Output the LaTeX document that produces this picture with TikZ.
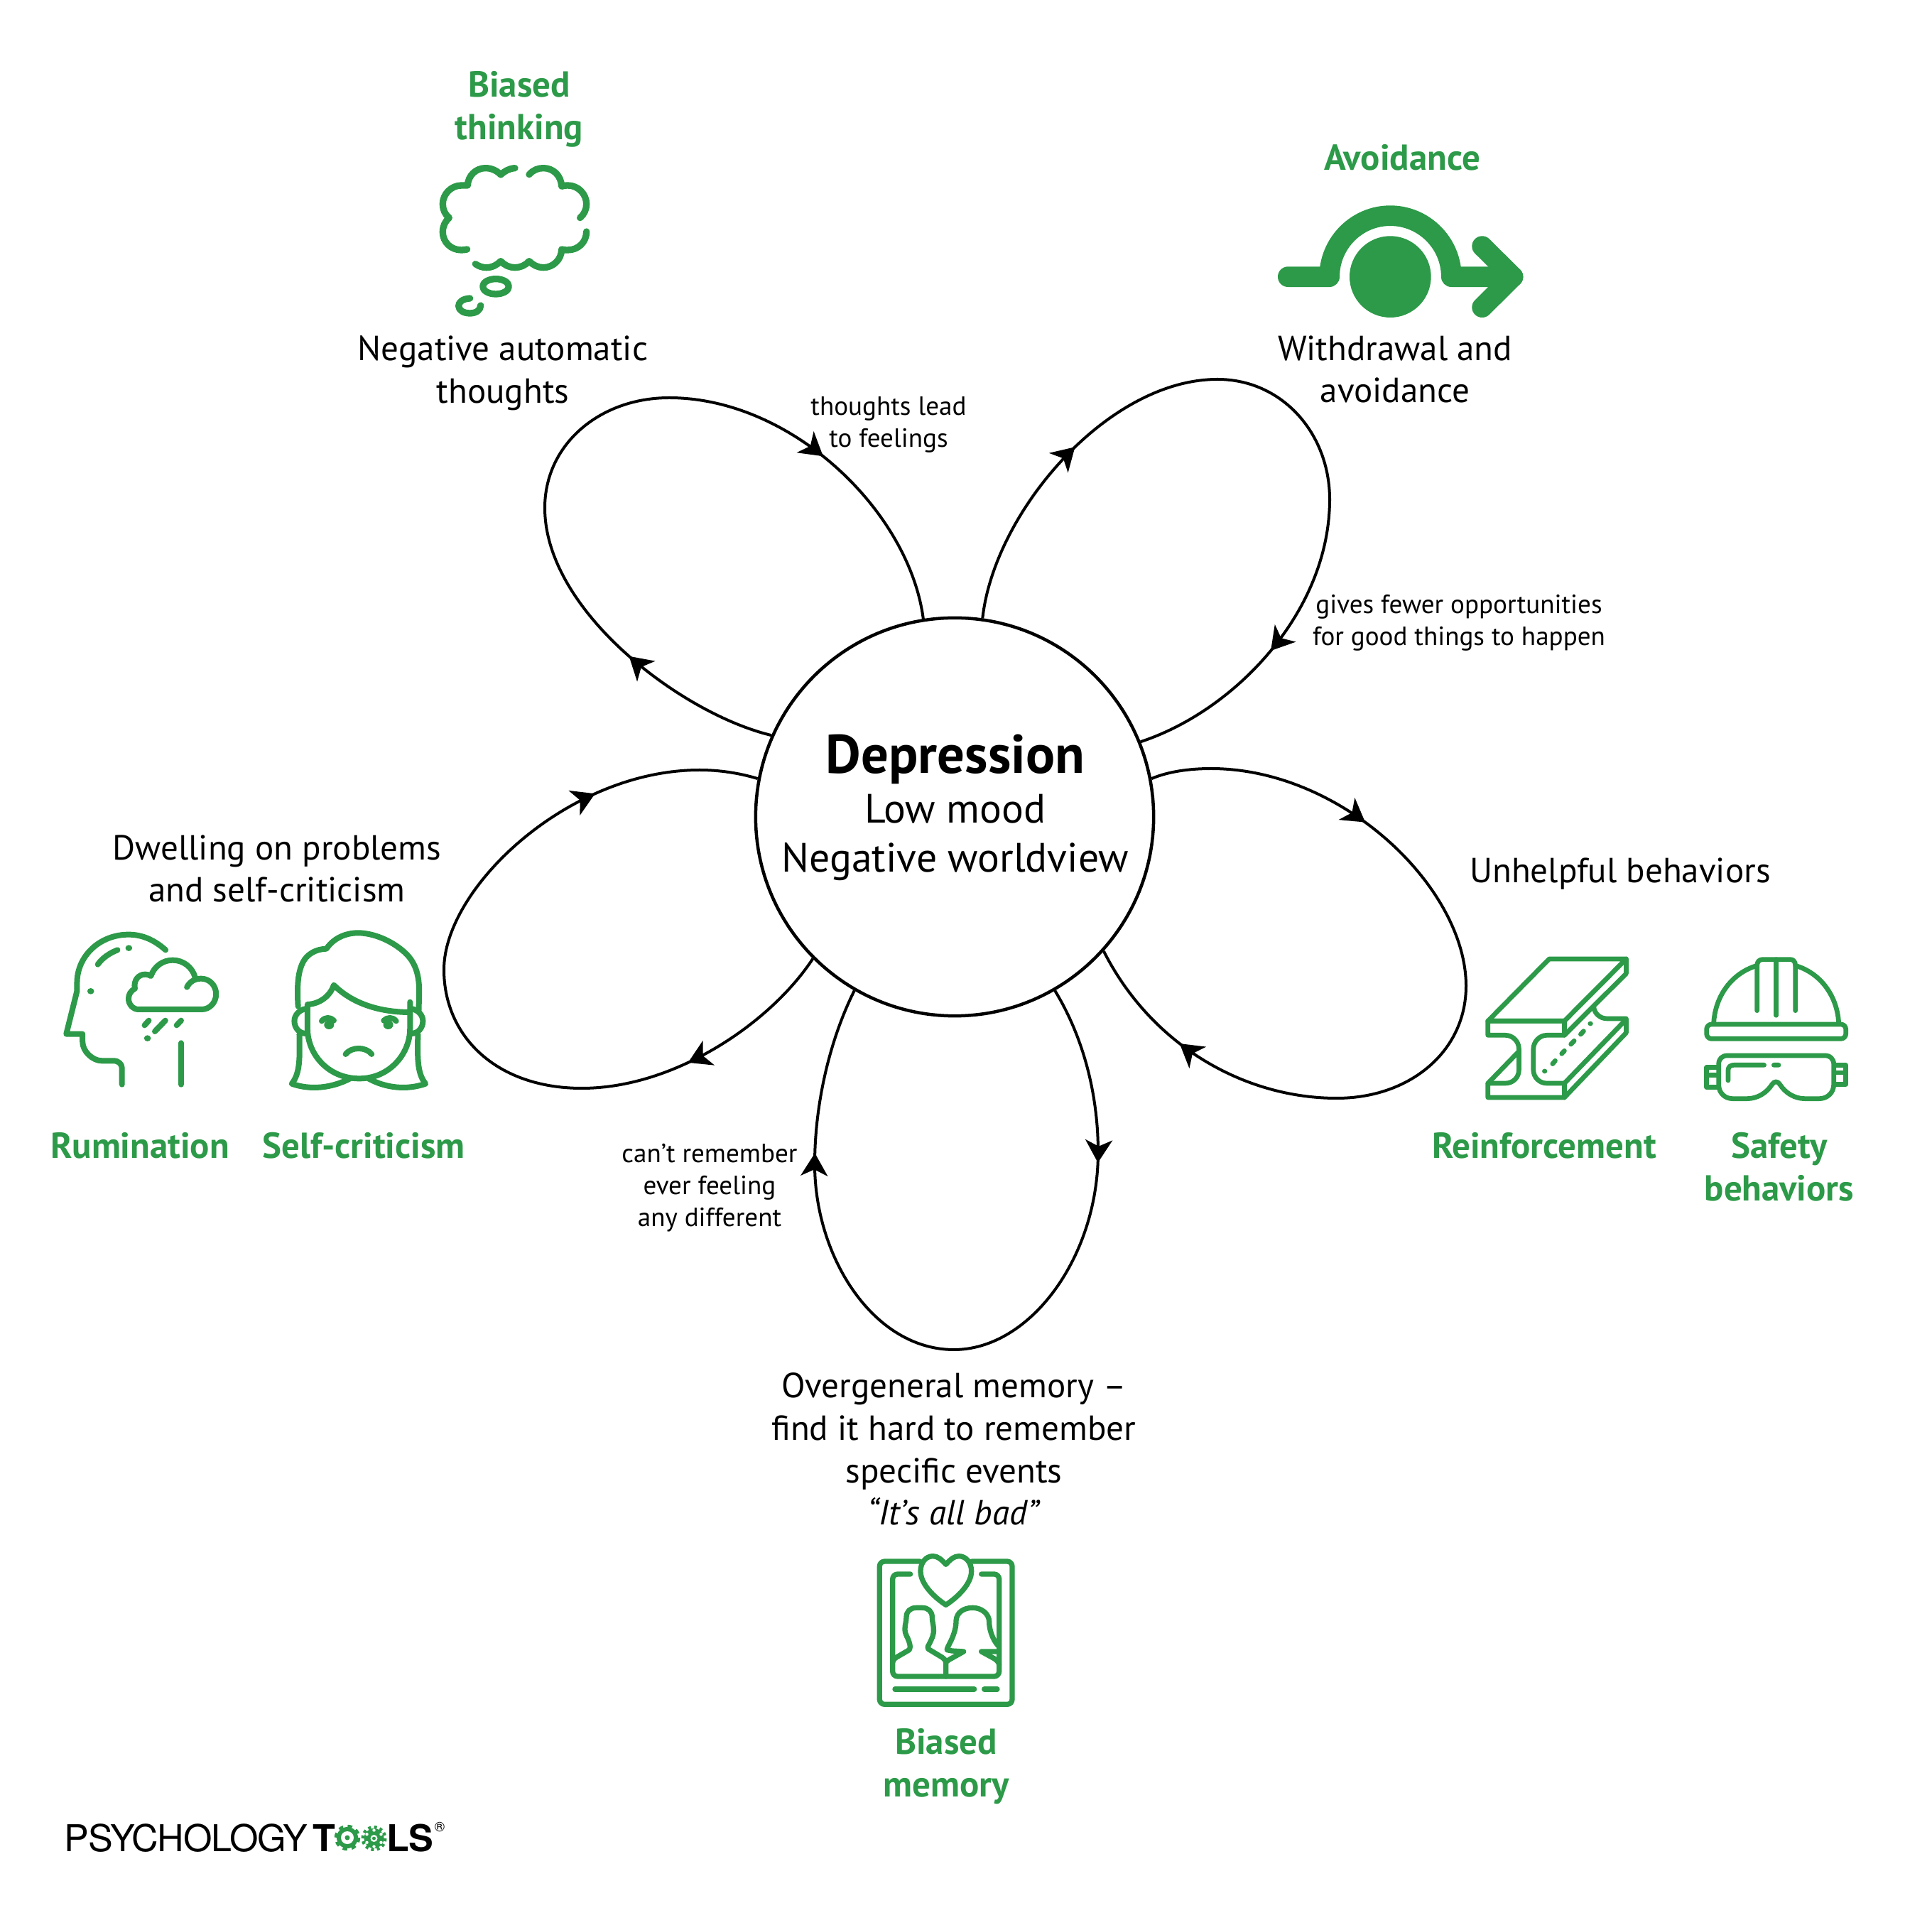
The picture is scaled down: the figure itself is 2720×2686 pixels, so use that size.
\documentclass[tikz,border=0pt]{standalone}
\usepackage{fontspec}
\setmainfont{PT Sans}
\newfontfamily\logofont[LetterSpace=-2.2]{TeX Gyre Heros}
\usepackage{xcolor}
\usetikzlibrary{arrows.meta,decorations.markings}
\definecolor{toolgreen}{RGB}{44,154,72}

\begin{document}
\begin{tikzpicture}[
  x=0.01cm,y=-0.01cm,
  tip/.tip={Stealth[length=3.2mm,width=3.8mm,inset=0.9mm]},
  core/.style={draw,circle,line width=0.045cm,minimum size=5.6cm,inner sep=0pt},
  petal/.style 2 args={line width=0.04cm,decoration={markings,mark=at position #1 with {\arrow{tip}},mark=at position #2 with {\arrow{tip}}},postaction={decorate}},
  lab/.style={align=center,inner sep=0pt,font=\fontsize{13.95}{17}\selectfont},
  note/.style={align=center,inner sep=0pt,font=\fontsize{10.55}{12.8}\selectfont},
  head/.style={align=center,inner sep=0pt,text=toolgreen,font=\fontsize{14.45}{17}\selectfont\bfseries},
  icon/.style={draw=toolgreen,line cap=round,line join=round,line width=#1},
  dot/.style={fill=toolgreen}
]
  \useasboundingbox (0,0) rectangle (2720,2686);

  \node[core] (depression) at (1344,1150) {};
  \node[align=center,inner sep=0pt,font=\fontsize{16.4}{19.8}\selectfont] (depressiontext) at (1345,1137) {{\fontsize{21.8}{19.8}\selectfont\bfseries Depression}\\Low mood\\Negative worldview};

  \draw[petal={0.185}{0.78}] (depression.156) .. controls (960,1005) and (767,860) .. (767,715) .. controls (767,625) and (845,560) .. (942,560) .. controls (1115,560) and (1280,720) .. (depression.99.6);
  \draw[petal={0.228}{0.815}] (depression.82) .. controls (1400,720) and (1560,534) .. (1714,534) .. controls (1805,534) and (1872,610) .. (1872,703) .. controls (1872,860) and (1740,1000) .. (depression.22.5);
  \draw[petal={0.25}{0.867}] (depression.11) .. controls (1645,1086) and (1675,1082) .. (1705,1082) .. controls (1890,1082) and (2064,1250) .. (2064,1388) .. controls (2064,1480) and (1985,1546) .. (1882,1546) .. controls (1750,1546) and (1620,1470) .. (depression.-42.5);
  \draw[petal={0.206}{0.807}] (depression.-60) .. controls (1525,1460) and (1546,1540) .. (1546,1622) .. controls (1546,1770) and (1450,1900) .. (1343,1900) .. controls (1230,1900) and (1147,1770) .. (1147,1639) .. controls (1147,1550) and (1170,1460) .. (depression.240);
  \draw[petal={0.185}{0.812}] (depression.225) .. controls (1085,1440) and (950,1532) .. (819,1532) .. controls (700,1532) and (625,1460) .. (625,1365) .. controls (625,1250) and (800,1084) .. (985,1084) .. controls (1012,1084) and (1040,1088) .. (depression.169);

  \node[head] (biasedthinking) at (731,154) {Biased\\thinking};
  \node[lab] (negthoughts) at (708,525) {Negative automatic\\thoughts};
  \node[note] (leadnote) at (1251,598) {thoughts lead\\to feelings};
  \node[head] (avoidance) at (1974,222) {Avoidance};
  \node[lab] (withdrawal) at (1964,520) {Withdrawal and\\avoidance};
  \node[note] (fewernote) at (2054,877) {gives fewer opportunities\\for good things to happen};
  \node[lab] (unhelpful) at (2281,1230) {Unhelpful behaviors};
  \node[head] (reinforcement) at (2174,1613) {Reinforcement};
  \node[head] (safety) at (2505,1643) {Safety\\behaviors};
  \node[lab] (overgeneral) at (1343,2040) {Overgeneral memory --\\find it hard to remember\\specific events\\\textit{“It’s all bad”}};
  \node[head] (biasedmemory) at (1332,2487) {Biased\\memory};
  \node[note] (remembernote) at (999,1672) {can’t remember\\ever feeling\\any different};
  \node[lab] (dwelling) at (390,1223) {Dwelling on problems\\and self-criticism};
  \node[head] (rumination) at (197,1613) {Rumination};
  \node[head] (selfcrit) at (512,1613) {Self-criticism};

  % thought cloud
  \begin{scope}[shift={(580,60)},scale=1/3,every path/.append style={icon=0.093cm}]
    \draw (435,530) .. controls (410,532) and (392,542) .. (375,558) .. controls (358,540) and (335,530) .. (310,530) .. controls (270,530) and (237,562) .. (235,603) -- (210,603) .. controls (165,603) and (130,640) .. (130,682) .. controls (130,705) and (140,727) .. (157,740) .. controls (140,755) and (130,775) .. (130,800) .. controls (130,843) and (165,876) .. (208,876) .. controls (218,876) and (225,875) .. (233,873);
    \draw (268,935) .. controls (283,945) and (297,950) .. (315,950) .. controls (340,950) and (360,938) .. (375,923) .. controls (390,940) and (412,950) .. (435,950) .. controls (458,950) and (480,940) .. (495,923) .. controls (512,940) and (532,950) .. (555,950) .. controls (597,950) and (632,915) .. (632,873) .. controls (640,876) and (648,876) .. (658,876) .. controls (702,876) and (737,843) .. (737,798);
    \draw (710,740) .. controls (727,725) and (737,705) .. (737,682) .. controls (737,640) and (702,603) .. (658,603) .. controls (648,603) and (640,604) .. (632,607) .. controls (630,562) and (597,530) .. (555,530) .. controls (532,530) and (512,538) .. (495,557);
    \draw (354,1030) ellipse [x radius=55,y radius=32];
    \draw (245,1080) .. controls (215,1082) and (197,1095) .. (197,1112) .. controls (197,1132) and (220,1143) .. (245,1143) .. controls (270,1143) and (290,1130) .. (290,1110);
  \end{scope}

  % avoidance arrow
  \begin{scope}[shift={(1760,180)},scale=1/3]
    \fill[dot] (592,629) circle [radius=172];
    \draw[icon=0.287cm] (160,629) -- (335,629) .. controls (335,487) and (450,371) .. (592,371) .. controls (734,371) and (850,487) .. (850,629) -- (1110,629);
    \draw[icon=0.287cm] (980,500) -- (1110,629) -- (980,758);
  \end{scope}

  % head and face
  \begin{scope}[shift={(60,1280)},xscale=0.37,yscale=1/3,every path/.append style={icon=0.08cm}]
    \draw (468,172) .. controls (425,130) and (380,107) .. (327,107) .. controls (215,107) and (131,200) .. (131,310) -- (131,345) -- (90,527) -- (152,527) -- (152,560) .. controls (152,600) and (190,640) .. (225,640) -- (270,640) .. controls (290,640) and (302,655) .. (302,672) -- (302,740);
    \draw (210,233) .. controls (228,205) and (255,185) .. (285,172);
    \fill[dot,draw=none] (328,164) circle [radius=13] (183,346) circle [radius=13] (399,545) circle [radius=13];
    \draw (527,565) -- (527,740);
    \draw (549,329) .. controls (560,305) and (580,293) .. (603,293) .. controls (635,293) and (660,322) .. (660,358) .. controls (660,395) and (635,423) .. (605,423) -- (365,423) .. controls (345,423) and (327,403) .. (327,378) .. controls (327,360) and (335,345) .. (351,335) .. controls (345,300) and (365,275) .. (390,275) .. controls (398,275) and (405,277) .. (412,282) .. controls (425,240) and (458,215) .. (495,215) .. controls (535,215) and (570,245) .. (580,287);
    \draw (388,490) -- (404,470) (427,516) -- (467,470) (510,490) -- (527,470);

    \draw (972,410) .. controls (968,330) and (970,270) .. (990,225) .. controls (1005,190) and (1040,168) .. (1080,167) .. controls (1105,125) and (1150,100) .. (1200,100) .. controls (1260,100) and (1335,135) .. (1385,190) .. controls (1420,230) and (1433,280) .. (1433,350) -- (1431,430);
    \draw (1398,392) -- (1398,505) .. controls (1398,610) and (1320,715) .. (1205,715) .. controls (1085,715) and (1008,610) .. (1008,505) -- (1008,402) .. controls (1055,400) and (1095,365) .. (1108,320) .. controls (1170,390) and (1270,435) .. (1398,435);
    \draw (1003,420) .. controls (975,425) and (958,448) .. (958,472) .. controls (958,500) and (975,525) .. (1003,525);
    \draw (1402,420) .. controls (1430,425) and (1447,448) .. (1447,472) .. controls (1447,500) and (1430,525) .. (1402,525);
    \draw (977,528) .. controls (978,620) and (982,690) .. (948,737) .. controls (1020,765) and (1100,755) .. (1170,715);
    \draw (1428,528) .. controls (1427,620) and (1423,690) .. (1457,737) .. controls (1385,765) and (1305,755) .. (1240,715);
    \draw (1062,472) .. controls (1075,455) and (1095,455) .. (1108,470);
    \draw (1298,470) .. controls (1312,455) and (1332,455) .. (1345,472);
    \fill[dot,draw=none] (1090,488) circle [radius=19] (1315,488) circle [radius=19];
    \draw (1153,612) .. controls (1175,580) and (1230,580) .. (1252,612);
  \end{scope}

  % steel beam, helmet and goggles
  \begin{scope}[shift={(2060,1320)},xscale=0.37,yscale=1/3,every path/.append style={icon=0.067cm}]
    \draw (94,352) -- (327,90) -- (620,90) -- (385,352) -- cycle;
    \draw (94,352) -- (385,352) -- (385,412) -- (318,412) .. controls (290,412) and (267,440) .. (267,470) -- (267,558) .. controls (267,590) and (290,615) .. (318,615) -- (385,615) -- (385,675) -- (94,675) -- (94,615) -- (160,615) .. controls (190,615) and (212,590) .. (212,558) -- (212,470) .. controls (212,440) and (190,412) .. (160,412) -- (94,412) -- cycle;
    \draw (620,90) -- (620,152) -- (385,412);
    \draw (385,615) -- (620,345) -- (620,402) -- (385,675);
    \draw (620,342) -- (548,342) .. controls (520,342) and (500,320) .. (497,295);
    \draw (94,615) -- (212,480);
    \fill[dot,draw=none] (310,564) circle [radius=10] (484,363) circle [radius=10];
    \draw (340,533) -- (350,520) (375,490) -- (385,478) (410,450) -- (422,436) (447,408) -- (458,395);

    \draw (953,365) .. controls (957,250) and (1020,150) .. (1118,118) (1429,365) .. controls (1425,250) and (1362,150) .. (1264,118);
    \draw (1118,308) -- (1118,118) .. controls (1118,100) and (1128,92) .. (1140,92) -- (1245,92) .. controls (1255,92) and (1264,100) .. (1264,118) -- (1264,308);
    \draw (1191,92) -- (1191,328);
    \draw[rounded corners=2pt] (926,366) rectangle (1456,427);
    \draw (1005,498) -- (1380,498) .. controls (1395,498) and (1410,512) .. (1410,535) -- (1410,620) .. controls (1410,655) and (1385,680) .. (1355,680) -- (1300,680) .. controls (1260,680) and (1225,655) .. (1205,620) .. controls (1197,605) and (1183,605) .. (1175,620) .. controls (1155,655) and (1120,680) .. (1080,680) -- (1025,680) .. controls (995,680) and (972,655) .. (972,620) -- (972,535) .. controls (972,512) and (985,498) .. (1005,498) -- cycle;
    \draw (1008,603) -- (1008,560) .. controls (1008,545) and (1018,538) .. (1030,538) -- (1145,538) (1182,538) -- (1200,538);
    \draw (970,548) -- (926,548) -- (926,632) -- (970,632) (926,580) -- (970,580);
    \draw (1415,538) -- (1456,538) -- (1456,620) -- (1415,620) (1415,570) -- (1456,570);
  \end{scope}

  % photo frame
  \begin{scope}[shift={(1200,2170)},scale=1/3,every path/.append style={icon=0.073cm}]
    \draw[rounded corners=2pt] (285,84) -- (115,84) -- (115,688) -- (675,688) -- (675,84) -- (505,84);
    \draw[rounded corners=2pt] (245,138) -- (170,138) -- (170,570) -- (620,570) -- (620,138) -- (545,138);
    \draw (395,97) .. controls (375,75) and (360,62) .. (340,62) .. controls (310,62) and (288,90) .. (288,125) .. controls (288,180) and (345,235) .. (395,268) .. controls (445,235) and (503,180) .. (503,125) .. controls (503,90) and (480,62) .. (450,62) .. controls (430,62) and (415,75) .. (395,97) -- cycle;
    \draw (395,570) -- (395,510) .. controls (395,500) and (385,495) .. (380,490) -- (322,455) .. controls (315,448) and (320,440) .. (325,432) .. controls (335,412) and (345,395) .. (343,370) .. controls (343,350) and (337,340) .. (337,320) .. controls (337,295) and (320,280) .. (295,280) -- (270,280) .. controls (245,280) and (228,295) .. (228,320) .. controls (228,340) and (222,350) .. (222,370) .. controls (222,395) and (235,405) .. (240,425) .. controls (245,440) and (245,450) .. (240,458) -- (185,490) .. controls (178,495) and (172,500) .. (170,510);
    \draw (395,510) .. controls (400,505) and (410,498) .. (420,493) -- (470,465) -- (420,462) -- (400,458) .. controls (398,450) and (420,420) .. (430,385) .. controls (438,360) and (438,345) .. (438,335) .. controls (440,300) and (470,280) .. (508,280) .. controls (545,280) and (578,305) .. (578,340) .. controls (578,370) and (590,410) .. (615,440);
    \draw (610,465) -- (545,465) -- (600,495) .. controls (610,502) and (618,510) .. (620,520);
    \draw (180,624) -- (515,624) (557,624) -- (612,624);
  \end{scope}

  % logo
  \node[inner sep=0pt,anchor=base west,font=\fontsize{14.8}{17}\logofont] (logoleft) at (90,2606) {PSYCHOLOGY};
  \node[inner sep=0pt,anchor=base west,font=\fontsize{14.8}{17}\logofont\bfseries] (logot) at (440,2606) {T};
  \node[inner sep=0pt,anchor=base west,font=\fontsize{14.8}{17}\logofont\bfseries] (logols) at (544,2606) {LS};
  \node[inner sep=0pt,anchor=center,font=\fontsize{5.5}{6}\logofont] (logoreg) at (619,2572) {®};
  \fill[toolgreen] (489,2587) circle [radius=15];
  \draw[toolgreen,line width=0.045cm,dash pattern=on 0.063cm off 0.063cm] (489,2587) circle [radius=16];
  \fill[white] (489,2587) circle [radius=9];
  \fill[toolgreen] (489,2587) circle [radius=3.5];
  \fill[toolgreen] (526.5,2588) circle [radius=14];
  \draw[toolgreen,line width=0.05cm,dash pattern=on 0.04cm off 0.041cm] (526.5,2588) circle [radius=15.5];
  \fill[white] (526.5,2588) circle [radius=5] (526.5,2576.5) circle [radius=2.2] (536.5,2582.2) circle [radius=2.2] (536.5,2593.8) circle [radius=2.2] (526.5,2599.5) circle [radius=2.2] (516.5,2593.8) circle [radius=2.2] (516.5,2582.2) circle [radius=2.2];
  \fill[toolgreen] (526.5,2588) circle [radius=2.5];
\end{tikzpicture}
\end{document}
